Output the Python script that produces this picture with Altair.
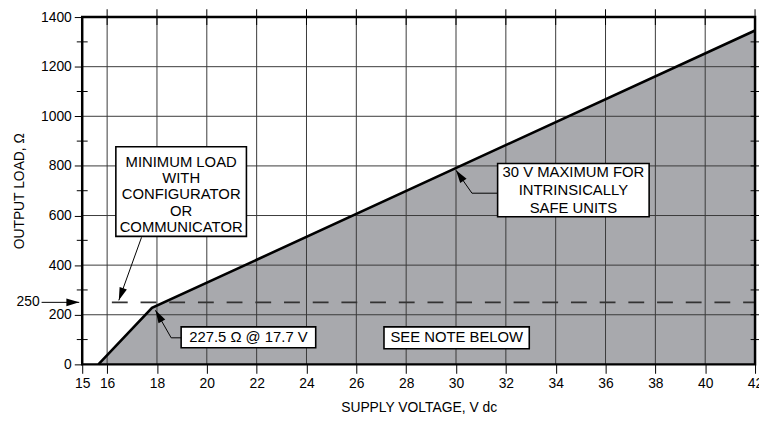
import altair as alt
import pandas as pd

FONT = "Liberation Sans"

# ---------------- data ----------------
# boundary of the operating region (supply voltage vs max output load)
volts = [15.65, 17.8, 42.0]
loads = [0.0, 227.5, 1346.0]

x_tick_values = [15, 16, 18, 20, 22, 24, 26, 28, 30, 32, 34, 36, 38, 40, 42]
y_tick_values = [0, 200, 400, 600, 800, 1000, 1200, 1400]
grid_x = [16, 18, 20, 22, 24, 26, 28, 30, 32, 34, 36, 38, 40]
grid_y = [200, 400, 600, 800, 1000, 1200]
minor_y_left = [100, 300, 500, 700, 900, 1100, 1300]
right_y = [100, 200, 300, 400, 500, 600, 700, 800, 900, 1000, 1100, 1200, 1300]
top_x = [16, 18, 20, 22, 24, 26, 28, 30, 32, 34, 36, 38, 40, 42]

min_load_level = [250]
dash_start = [16.19]
dash_end = [42]

# annotation boxes
box_x1 = [16.35, 31.67, 18.97, 27.11]
box_x2 = [21.59, 37.75, 24.37, 32.94]
box_y1 = [516, 595, 67, 63]
box_y2 = [877, 810, 151, 151]

# multi-line labels (y = position of first line)
ml_labels = ["MINIMUM LOAD\nWITH\nCONFIGURATOR\nOR\nCOMMUNICATOR", "30 V MAXIMUM FOR\nINTRINSICALLY\nSAFE UNITS"]
ml_x = [18.97, 34.71]
ml_y = [817, 774]
ml_line_height = [16.5, 18]

# single-line labels
sl_labels = ["227.5 Ω @ 17.7 V", "SEE NOTE BELOW"]
sl_x = [21.67, 30.03]
sl_y = [109, 109]

# leader arrows (polylines)
arrow_id = [1, 1, 2, 2, 2, 3, 3, 3, 4, 4]
arrow_seq = [0, 1, 0, 1, 2, 0, 1, 2, 0, 1]
arrow_x = [17.38, 16.47, 31.67, 30.64, 30.0, 18.97, 18.57, 17.94, 13.37, 14.88]
arrow_y = [512, 258, 690, 690, 782, 107, 107, 218, 250, 250]
head_x = [16.47, 30.0, 17.94, 14.88]
head_y = [258, 782, 218, 250]
head_angle = [200, 325, 330, 90]

level_label = ["250"]
level_label_x = [13.29]

# ---------------- helpers ----------------
XS = alt.Scale(domain=[15, 42], nice=False, zero=False)
YS = alt.Scale(domain=[0, 1400], nice=False, zero=False)


def X(f):
    return alt.X(f, type="quantitative", scale=XS, axis=None)


def Y(f):
    return alt.Y(f, type="quantitative", scale=YS, axis=None)


# ---------------- layers ----------------
bound = pd.DataFrame({"v": volts, "r": loads})

area = alt.Chart(bound).mark_area(color="#a8a9ad").encode(
    x=alt.X(
        "v:Q",
        scale=XS,
        axis=alt.Axis(
            orient="bottom",
            values=x_tick_values, format="d", tickSize=9, tickColor="black", tickWidth=1,
            domain=False, grid=False, labelFont=FONT, labelFontSize=14, labelColor="black",
            labelPadding=3, labelFlush=False, labelOverlap=False,
            title="SUPPLY VOLTAGE, V dc", titleFont=FONT, titleFontSize=14,
            titleFontWeight="normal", titleColor="black", titlePadding=11,
        ),
    ),
    y=alt.Y(
        "r:Q",
        scale=YS,
        axis=alt.Axis(
            orient="left",
            values=y_tick_values, format="d", tickSize=8, tickColor="black", tickWidth=1,
            domain=False, grid=False, labelFont=FONT, labelFontSize=14, labelColor="black",
            labelPadding=3, labelFlush=False, labelOverlap=False,
            title="OUTPUT LOAD, Ω", titleFont=FONT, titleFontSize=14,
            titleFontWeight="normal", titleColor="black", titlePadding=14,
        ),
    ),
)

gx = alt.Chart(pd.DataFrame({"g": grid_x, "y0": [0] * len(grid_x), "y1": [1400] * len(grid_x)})).mark_rule(
    color="#3a3a3a", strokeWidth=1
).encode(x=X("g"), y=Y("y0"), y2="y1")

gy = alt.Chart(pd.DataFrame({"g": grid_y, "x0": [15] * len(grid_y), "x1": [42] * len(grid_y)})).mark_rule(
    color="#3a3a3a", strokeWidth=1
).encode(y=Y("g"), x=X("x0"), x2="x1")

dash = alt.Chart(pd.DataFrame({"y": min_load_level, "a": dash_start, "b": dash_end})).mark_rule(
    color="#333333", strokeWidth=1.6, strokeDash=[16, 13]
).encode(y=Y("y"), x=X("a"), x2="b")

line = alt.Chart(bound).mark_line(color="black", strokeWidth=2.6).encode(x=X("v"), y=Y("r"))

frame = alt.Chart(pd.DataFrame({"a": [15], "b": [42], "c": [0], "d": [1400]})).mark_rect(
    fill="transparent", stroke="black", strokeWidth=2.5
).encode(x=X("a"), x2="b", y=Y("c"), y2="d")

left_minor = alt.Chart(pd.DataFrame({"y": minor_y_left, "x": [15] * len(minor_y_left)})).mark_tick(
    orient="horizontal", size=11, thickness=1, color="black", opacity=1
).encode(x=X("x"), y=Y("y"))

right_t = alt.Chart(pd.DataFrame({"y": right_y, "x": [42] * len(right_y)})).mark_tick(
    orient="horizontal", size=9, thickness=1, color="black", opacity=1
).encode(x=X("x"), y=Y("y"))

top_t = alt.Chart(pd.DataFrame({"x": top_x, "y": [1400] * len(top_x)})).mark_tick(
    orient="vertical", size=16, thickness=1, color="black", opacity=1
).encode(x=X("x"), y=Y("y"))

boxes_df = pd.DataFrame({"a": box_x1, "b": box_x2, "c": box_y1, "d": box_y2})
boxes = alt.Chart(boxes_df).mark_rect(fill="white", stroke="black", strokeWidth=1.6).encode(
    x=X("a"), x2="b", y=Y("c"), y2="d"
)

ml_layers = []
for t, x, y, lh in zip(ml_labels, ml_x, ml_y, ml_line_height):
    ml_layers.append(
        alt.Chart(pd.DataFrame({"t": [t], "x": [x], "y": [y]})).mark_text(
            font=FONT, fontSize=15, color="black", align="center", baseline="middle",
            lineBreak="\n", lineHeight=lh,
        ).encode(x=X("x"), y=Y("y"), text="t:N")
    )

sl_texts = alt.Chart(pd.DataFrame({"t": sl_labels, "x": sl_x, "y": sl_y})).mark_text(
    font=FONT, fontSize=15, color="black", align="center", baseline="middle"
).encode(x=X("x"), y=Y("y"), text="t:N")

arrows_df = pd.DataFrame({"id": arrow_id, "s": arrow_seq, "x": arrow_x, "y": arrow_y})
arrows = alt.Chart(arrows_df).mark_line(color="black", strokeWidth=1).encode(
    x=X("x"), y=Y("y"), detail="id:N", order="s:Q"
)

heads_df = pd.DataFrame({"x": head_x, "y": head_y, "ang": head_angle})
heads = alt.Chart(heads_df).mark_point(
    shape="M0,0L0.6,2L-0.6,2Z", filled=True, color="black", opacity=1, size=169, strokeWidth=0
).encode(x=X("x"), y=Y("y"), angle=alt.Angle("ang:Q", scale=None))

lvl = alt.Chart(pd.DataFrame({"t": level_label, "x": level_label_x, "y": min_load_level})).mark_text(
    font=FONT, fontSize=14, color="black", align="right", baseline="middle"
).encode(x=X("x"), y=Y("y"), text="t:N")

chart = alt.layer(
    area, gx, gy, dash, line, frame, left_minor, right_t, top_t, boxes, *ml_layers, sl_texts, arrows, heads, lvl
).resolve_axis(
    x="independent", y="independent"
).properties(
    width=680,
    height=351,
    autosize=alt.AutoSizeParams(type="none"),
    padding={"left": 75, "top": 7, "right": 4, "bottom": 48},
    background="white",
).configure_view(stroke="transparent")

chart.save("out.html", embed_options={"renderer": "svg", "actions": False})
